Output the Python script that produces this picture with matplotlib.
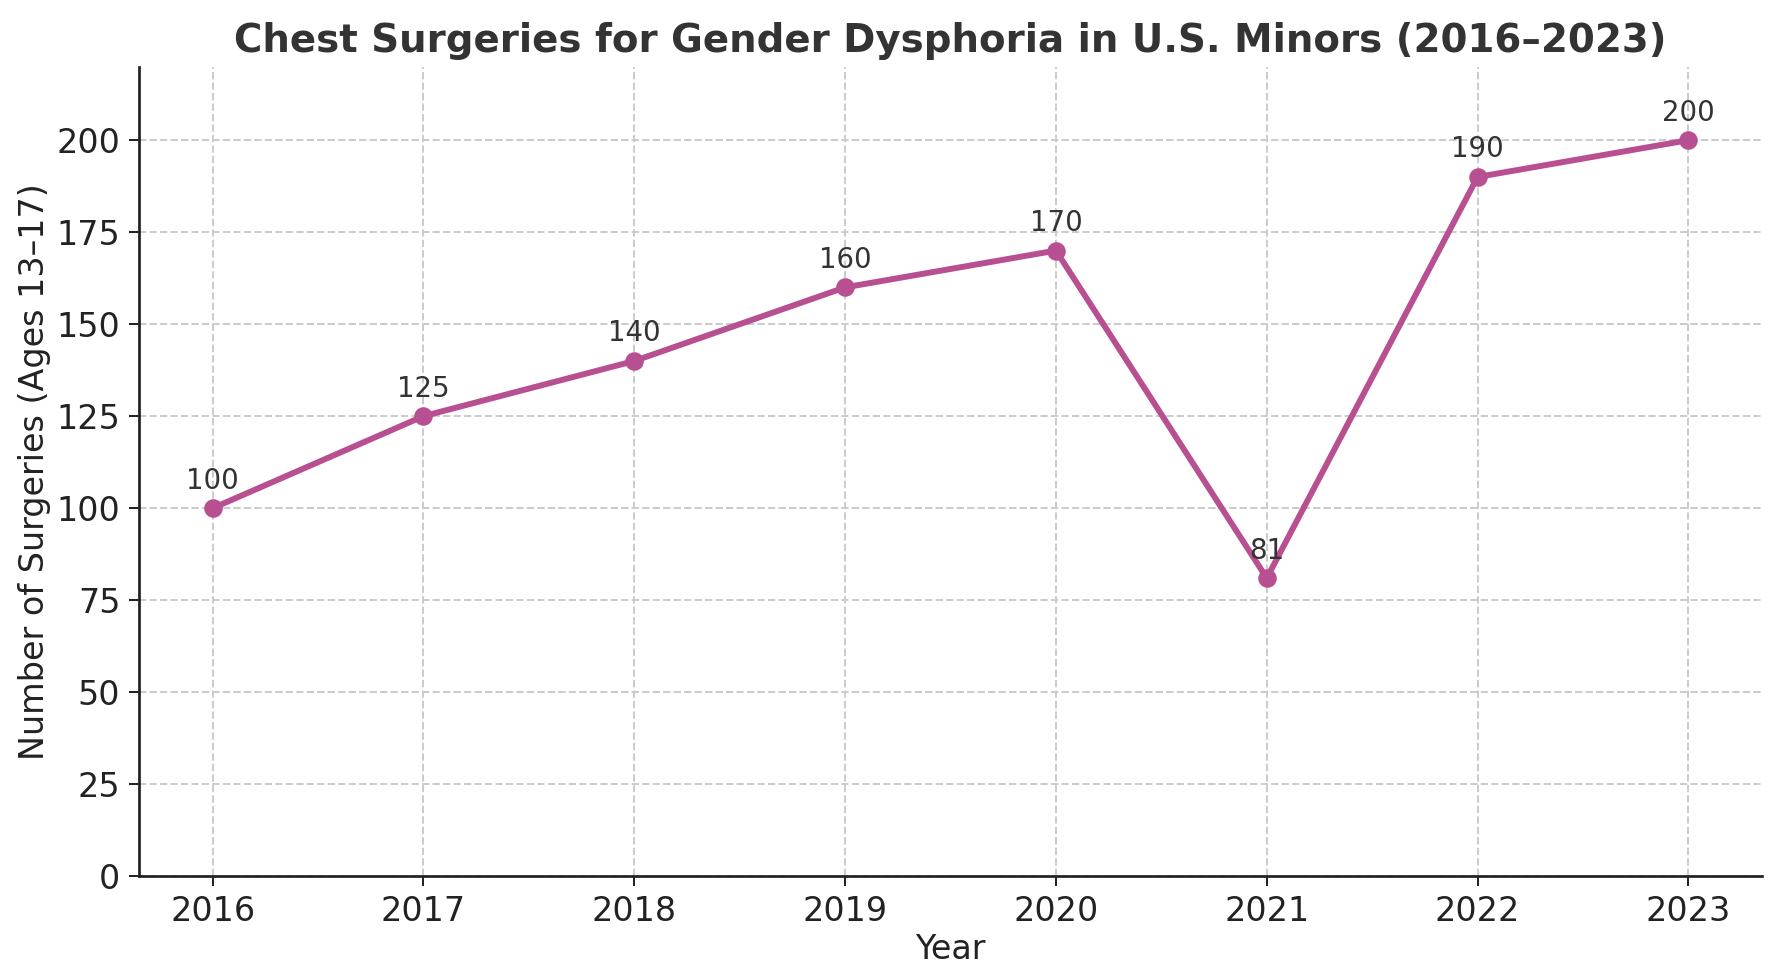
import matplotlib
matplotlib.use('Agg')
import matplotlib.pyplot as plt
import numpy as np

years = [2016, 2017, 2018, 2019, 2020, 2021, 2022, 2023]
surgeries = [100, 125, 140, 160, 170, 81, 190, 200]
yticks = [0, 25, 50, 75, 100, 125, 150, 175, 200]

fig, ax = plt.subplots(figsize=(10, 5.5), dpi=178)
fig.subplots_adjust(left=0.078, right=0.99, top=0.932, bottom=0.105)

ax.plot(years, surgeries, color='#b84f91', linewidth=2.4, marker='o', markersize=6.5)

for x, y in zip(years, surgeries):
    ax.annotate(str(y), (x, y), xytext=(0, 5.5), textcoords='offset points',
                ha='center', va='bottom', fontsize=11.2, color='#333333')

ax.set_title('Chest Surgeries for Gender Dysphoria in U.S. Minors (2016\u20132023)',
             fontsize=15.7, fontweight='bold', color='#333333')
ax.set_xlabel('Year', fontsize=13.5, color='#222222', labelpad=2)
ax.set_ylabel('Number of Surgeries (Ages 13\u201317)', fontsize=13.5, color='#222222',
              labelpad=2)
ax.set_xticks(years)
ax.set_yticks(yticks)
ax.set_ylim(0, 220)
ax.tick_params(labelsize=13.5, colors='#222222', length=4)
ax.grid(True, linestyle='--', color='#cccccc', linewidth=0.8)
ax.spines['top'].set_visible(False)
ax.spines['right'].set_visible(False)
for s in ['left', 'bottom']:
    ax.spines[s].set_linewidth(1.1)
    ax.spines[s].set_color('#222222')

plt.savefig('out.png', dpi=178)
